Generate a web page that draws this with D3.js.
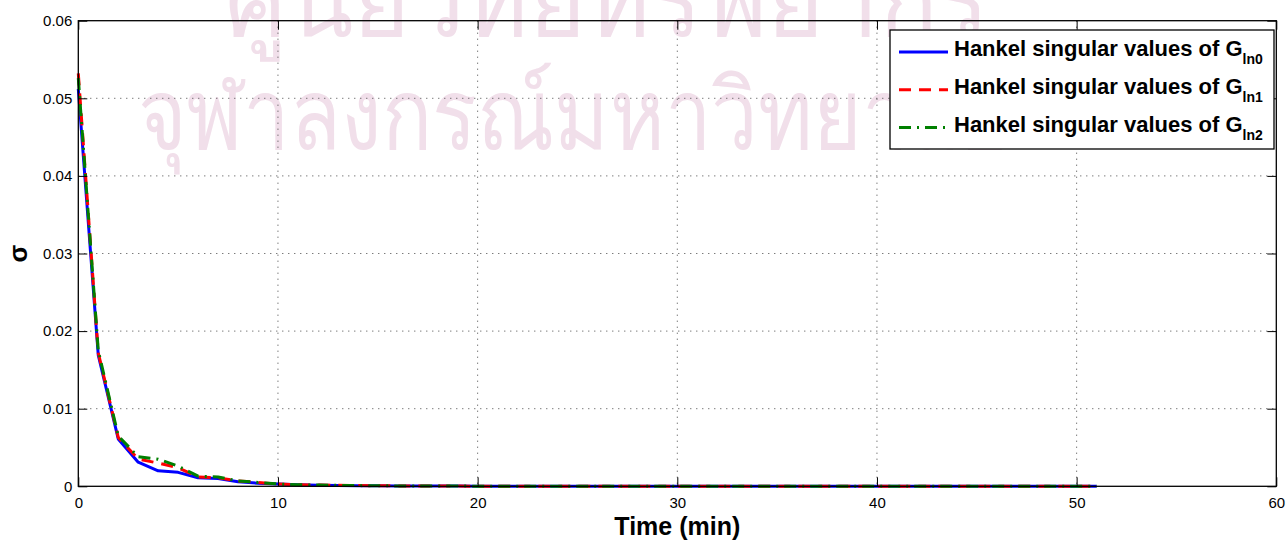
<!DOCTYPE html>
<html>
<head>
<meta charset="utf-8">
<script src="https://cdn.jsdelivr.net/npm/d3@7"></script>
<style>
  html, body { margin: 0; padding: 0; background: #fff; }
  svg { display: block; }
  text { font-family: "Liberation Sans", Arial, Helvetica, sans-serif; }
</style>
</head>
<body>
<svg id="chart" width="1288" height="541"></svg>
<script>
// Index (plotted as time, min) of each Hankel singular value
const times = d3.range(0, 52);

// Hankel singular values of G_ln0
const sigmaLn0 = [
  0.0512, 0.0169, 0.0061, 0.0031, 0.0020, 0.0018, 0.0011, 0.0010, 0.0006, 0.0004,
  0.0003, 0.0002, 0.00015, 0.00011, 0.00008, 0.00006, 0.00005, 0.00004, 0.00003, 0.000025,
  0.00002, 0.000018, 0.000015, 0.000013, 0.000011, 0.00001, 0.000009, 0.000008, 0.000007, 0.000006,
  0.000005, 0.0000045, 0.000004, 0.0000035, 0.000003, 0.0000027, 0.0000024, 0.0000021, 0.0000019, 0.0000017,
  0.0000015, 0.0000013, 0.0000012, 0.0000011, 0.000001, 0.0000009, 0.0000008, 0.0000007, 0.0000006, 0.0000005,
  0.0000004, 0.0000003
];
// Hankel singular values of G_ln1
const sigmaLn1 = [
  0.0532, 0.0172, 0.0063, 0.0035, 0.0030, 0.0024, 0.0012, 0.0011, 0.0007, 0.0005,
  0.0003, 0.0002, 0.00016, 0.00012, 0.00009, 0.00007, 0.00005, 0.00004, 0.00003, 0.000025,
  0.00002, 0.000018, 0.000015, 0.000013, 0.000011, 0.00001, 0.000009, 0.000008, 0.000007, 0.000006,
  0.000005, 0.0000045, 0.000004, 0.0000035, 0.000003, 0.0000027, 0.0000024, 0.0000021, 0.0000019, 0.0000017,
  0.0000015, 0.0000013, 0.0000012, 0.0000011, 0.000001, 0.0000009, 0.0000008, 0.0000007, 0.0000006, 0.0000005,
  0.0000004, 0.0000003
];
// Hankel singular values of G_ln2
const sigmaLn2 = [
  0.0526, 0.0175, 0.0065, 0.0038, 0.0035, 0.0026, 0.0013, 0.0012, 0.0007, 0.0005,
  0.0003, 0.0002, 0.00016, 0.00012, 0.00009, 0.00007, 0.00005, 0.00004, 0.00003, 0.000025,
  0.00002, 0.000018, 0.000015, 0.000013, 0.000011, 0.00001, 0.000009, 0.000008, 0.000007, 0.000006,
  0.000005, 0.0000045, 0.000004, 0.0000035, 0.000003, 0.0000027, 0.0000024, 0.0000021, 0.0000019, 0.0000017,
  0.0000015, 0.0000013, 0.0000012, 0.0000011, 0.000001, 0.0000009, 0.0000008, 0.0000007, 0.0000006, 0.0000005,
  0.0000004, 0.0000003
];

const xTicks = [0, 10, 20, 30, 40, 50, 60];
const yTicks = [0, 0.01, 0.02, 0.03, 0.04, 0.05, 0.06];
const seriesNames = ["ln0", "ln1", "ln2"];
const legendPrefix = "Hankel singular values of G";
const watermarkLines = ["ศูนย์วิทยทรัพยากร", "จุฬาลงกรณ์มหาวิทยาลัย"];

const series = [
  { name: seriesNames[0], values: sigmaLn0, color: "#0000ff", dash: null },
  { name: seriesNames[1], values: sigmaLn1, color: "#ff0000", dash: "12,8" },
  { name: seriesNames[2], values: sigmaLn2, color: "#008000", dash: "12,6,2,6" }
];

const svg = d3.select("#chart");
const W = 1288, H = 541;
const margin = { left: 78.3, top: 20.7, right: W - 1276.3, bottom: H - 486.3 };
const iw = W - margin.left - margin.right;
const ih = H - margin.top - margin.bottom;

// faint background watermark
const wm = svg.append("g").attr("fill", "#f1dfea")
  .style("font-family", "'Noto Sans Thai', 'Noto Sans', 'DejaVu Sans', sans-serif");
wm.append("text").attr("x", 225).attr("y", 36)
  .attr("textLength", 765).attr("lengthAdjust", "spacingAndGlyphs")
  .attr("font-size", 98).text(watermarkLines[0]);
wm.append("text").attr("x", 138).attr("y", 149)
  .attr("textLength", 870).attr("lengthAdjust", "spacingAndGlyphs")
  .attr("font-size", 98).text(watermarkLines[1]);

const x = d3.scaleLinear().domain([0, 60]).range([0, iw]);
const y = d3.scaleLinear().domain([0, 0.06]).range([ih, 0]);

const g = svg.append("g").attr("transform", `translate(${margin.left},${margin.top})`);

// dotted grid
g.append("g").selectAll("line").data(xTicks.slice(1, -1)).join("line")
  .attr("x1", d => x(d)).attr("x2", d => x(d)).attr("y1", 0).attr("y2", ih)
  .attr("stroke", "#444").attr("stroke-width", 1).attr("stroke-dasharray", "1,5");
g.append("g").selectAll("line").data(yTicks.slice(1, -1)).join("line")
  .attr("y1", d => y(d)).attr("y2", d => y(d)).attr("x1", 0).attr("x2", iw)
  .attr("stroke", "#444").attr("stroke-width", 1).attr("stroke-dasharray", "1,5");

// data lines
const line = d3.line().x((d, i) => x(times[i])).y(d => y(d));
series.forEach(s => {
  g.append("path").datum(s.values)
    .attr("fill", "none").attr("stroke", s.color).attr("stroke-width", 3)
    .attr("stroke-linejoin", "round")
    .attr("stroke-dasharray", s.dash)
    .attr("d", line);
});

// axes with inward ticks on all four sides
const tickLen = 9;
const styleAxis = sel => {
  sel.select(".domain").remove();
  sel.selectAll(".tick line").attr("stroke", "#000");
  sel.selectAll("text").attr("fill", "#000").style("font-family", "'Liberation Sans', Arial, sans-serif");
};
g.append("g").attr("transform", `translate(0,${ih})`)
  .call(d3.axisBottom(x).tickValues(xTicks).tickSize(-tickLen).tickPadding(11).tickFormat(d3.format("d")))
  .call(styleAxis).selectAll("text").attr("font-size", 15);
g.append("g")
  .call(d3.axisLeft(y).tickValues(yTicks).tickSize(-tickLen).tickPadding(6)
    .tickFormat(d => d === 0 ? "0" : d3.format(".2f")(d)))
  .call(styleAxis).selectAll("text").attr("font-size", 15);
g.append("g")
  .call(d3.axisTop(x).tickValues(xTicks).tickSize(-tickLen).tickFormat(""))
  .call(styleAxis);
g.append("g").attr("transform", `translate(${iw},0)`)
  .call(d3.axisRight(y).tickValues(yTicks).tickSize(-tickLen).tickFormat(""))
  .call(styleAxis);

// box
g.append("rect").attr("width", iw).attr("height", ih)
  .attr("fill", "none").attr("stroke", "#000").attr("stroke-width", 1.3);

// axis titles
svg.append("text").attr("x", margin.left + iw / 2).attr("y", 535)
  .attr("text-anchor", "middle").attr("font-size", 25).attr("font-weight", "bold")
  .text("Time (min)");
svg.append("text").attr("transform", `translate(27,${margin.top + ih / 2}) rotate(-90)`)
  .attr("text-anchor", "middle").attr("font-size", 26).attr("font-weight", "bold")
  .text("σ");

// legend
const lg = svg.append("g").attr("transform", "translate(890,30)");
lg.append("rect").attr("width", 384).attr("height", 119)
  .attr("fill", "#fff").attr("stroke", "#000").attr("stroke-width", 1.3);
series.forEach((s, i) => {
  const ly = 22 + i * 37.8;
  lg.append("line").attr("x1", 9).attr("x2", 58).attr("y1", ly).attr("y2", ly)
    .attr("stroke", s.color).attr("stroke-width", 3).attr("stroke-dasharray", s.dash);
  const t = lg.append("text").attr("x", 64).attr("y", ly + 4)
    .attr("font-size", 22).attr("font-weight", "bold").attr("fill", "#000");
  t.append("tspan").text(legendPrefix);
  t.append("tspan").attr("dy", 8).attr("font-size", 14).text(s.name);
});
</script>
</body>
</html>
